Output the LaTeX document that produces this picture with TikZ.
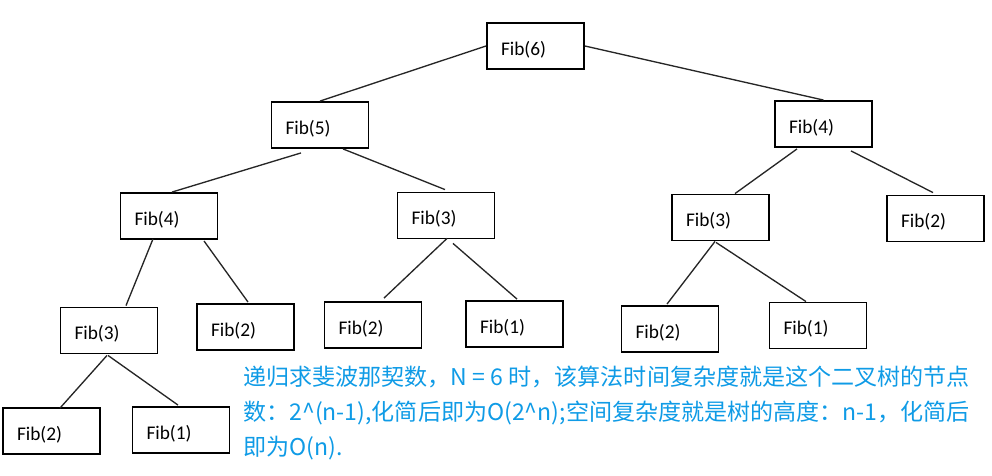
\documentclass[tikz,border=0pt]{standalone}
\usepackage{fontspec}
\setmainfont{Carlito}
\newfontfamily\cjk{Noto Sans CJK SC}
\usetikzlibrary{calc}
\definecolor{noteblue}{RGB}{15,155,230}

\begin{document}
\begin{tikzpicture}[x=0.75pt, y=-0.75pt,
  fibbox/.style={draw, line width=1.4pt, rectangle, minimum height=34.5pt,
    text width=51.75pt, inner xsep=10.5pt, inner ysep=0pt, align=left,
    text height=14pt, text depth=0pt, font=\fontsize{14.5}{17}\selectfont},
  link/.style={draw=black!85, line width=1pt}]
  \useasboundingbox (0,0) rectangle (992,475);
  % level 0
  \node[fibbox] (f6) at (535.5,46) {Fib(6)};
  % level 1
  \node[fibbox] (f5) at (320,125) {Fib(5)};
  \node[fibbox] (f4r) at (823.5,124) {Fib(4)};
  % level 2
  \node[fibbox] (f4l) at (169,216) {Fib(4)};
  \node[fibbox] (f3m) at (446,215.5) {Fib(3)};
  \node[fibbox] (f3r) at (720.5,217.5) {Fib(3)};
  \node[fibbox] (f2r) at (935.5,218.5) {Fib(2)};
  % level 3
  \node[fibbox] (f3l) at (109,330.5) {Fib(3)};
  \node[fibbox] (f2a) at (245.5,327) {Fib(2)};
  \node[fibbox] (f2b) at (373,325) {Fib(2)};
  \node[fibbox] (f1b) at (514.5,324) {Fib(1)};
  \node[fibbox] (f2c) at (670,329) {Fib(2)};
  \node[fibbox] (f1c) at (818,325.5) {Fib(1)};
  % level 4
  \node[fibbox] (f2d) at (51.5,431) {Fib(2)};
  \node[fibbox] (f1d) at (181,430) {Fib(1)};
  % links
  \draw[link] (f6.west) -- (f5.north);
  \draw[link] (f6.east) -- (f4r.north);
  \draw[link] ($(f5.south)+(-19,4)$) -- ($(f4l.north)+(3,0)$);
  \draw[link] ($(f5.south)+(23,0)$) -- ($(f3m.north)+(-1,-2)$);
  \draw[link] ($(f4r.south)+(-26.5,1)$) -- ($(f3r.north)+(14.5,0)$);
  \draw[link] ($(f4r.south)+(27.5,3)$) -- ($(f2r.north)+(-2.5,-2)$);
  \draw[link] ($(f4l.south)+(-16,-1)$) -- ($(f3l.north)+(17,-1)$);
  \draw[link] ($(f4l.south)+(35,1)$) -- ($(f2a.north)+(2.5,-1)$);
  \draw[link] ($(f3m.south)+(1,-1)$) -- ($(f2b.north)+(11,-3)$);
  \draw[link] ($(f3m.south)+(7,4)$) -- ($(f1b.north)+(2.5,-1)$);
  \draw[link] ($(f3r.south)+(-5.5,0)$) -- ($(f2c.north)+(-3,-1)$);
  \draw[link] ($(f3r.south)+(-4.5,1)$) -- ($(f1c.north)+(-12,0)$);
  \draw[link] ($(f3l.south)+(-2,1)$) -- ($(f2d.north)+(8.5,1)$);
  \draw[link] ($(f3l.south)+(-1,1)$) -- ($(f1d.north)+(-3,-1)$);
  % note
  \node[anchor=north west, inner sep=0pt, align=left, text=noteblue,
    font=\cjk\fontsize{17.3}{26}\selectfont] (note) at (243,366)
    {递归求斐波那契数，N = 6 时，该算法时间复杂度就是这个二叉树的节点\\
     数：2\textasciicircum(n-1),化简后即为O(2\textasciicircum n);空间复杂度就是树的高度：n-1，化简后\\
     即为O(n).};
\end{tikzpicture}
\end{document}
